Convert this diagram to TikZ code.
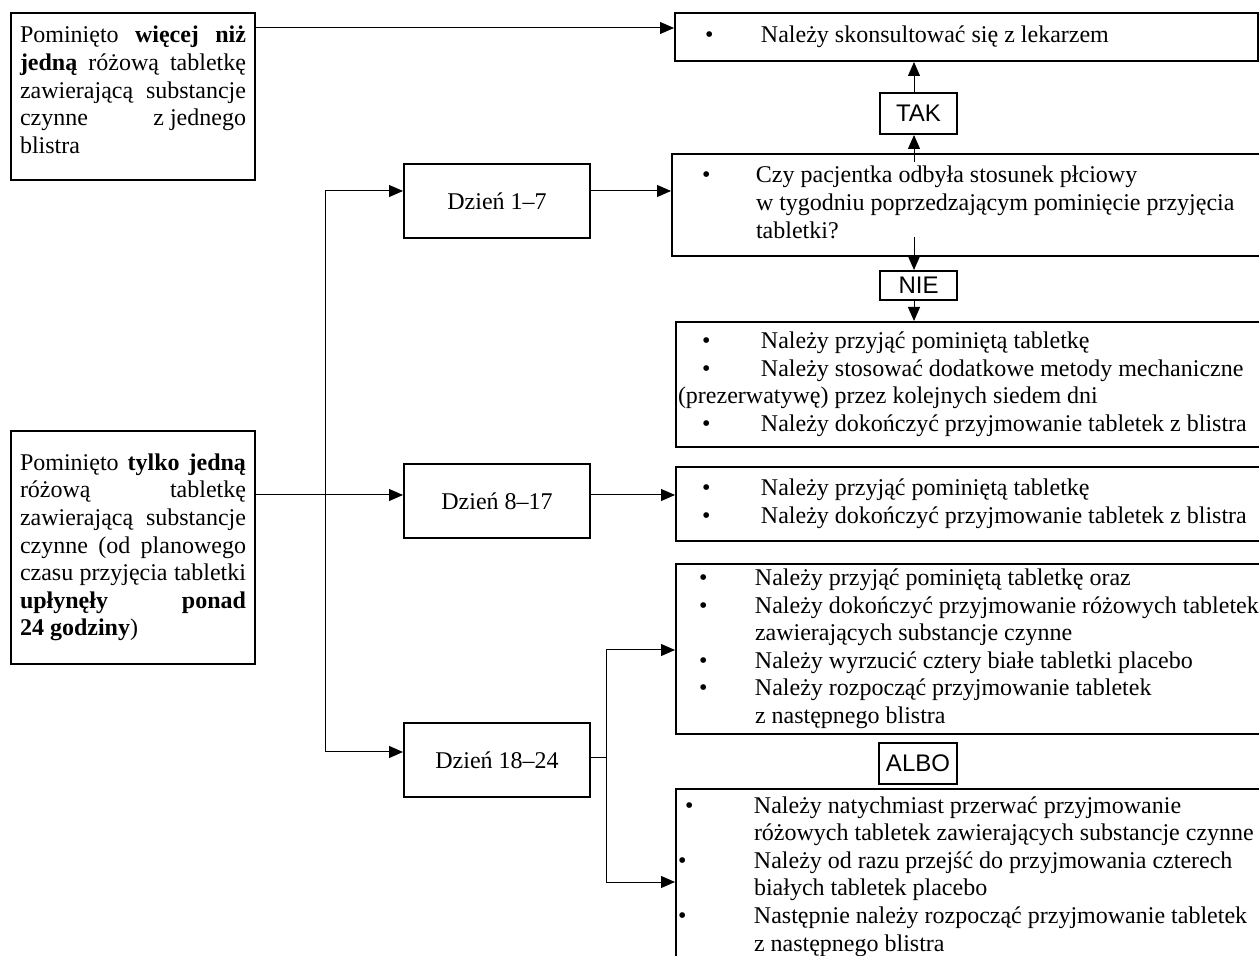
\documentclass[tikz,border=0pt]{standalone}
\usepackage{fontspec}
\setmainfont{Liberation Serif}
\newfontfamily\arialf{Liberation Sans}
\usetikzlibrary{arrows.meta}
% one bulleted line, a continued line, a justified line
\newcommand\wordsp{\spaceskip=0pt\xspaceskip=0pt\relax}
\newcommand\bitem[3]{\mbox{\wordsp\strut\hspace*{#1}\makebox[#2][l]{\textbullet}#3}}
\newcommand\bcont[2]{\mbox{\wordsp\strut\hspace*{#1}#2}}
\newcommand\jline[1]{\makebox[\linewidth][s]{\wordsp\strut #1}}
\begin{document}
\begin{tikzpicture}[x=0.5pt,y=-0.5pt,
		every node/.style={font=\fontsize{12}{13.8}\selectfont},
		sidebox/.style={draw,line width=1pt,anchor=north west,text width=113pt,inner xsep=4.5pt,inner ysep=0pt,align=left},
		listbox/.style={draw,line width=1pt,anchor=north west,inner xsep=1pt,inner ysep=0pt,align=left},
		daybox/.style={draw,line width=1pt,anchor=north west,minimum width=93pt,minimum height=37pt},
		tagbox/.style={draw,line width=1pt,anchor=north west,minimum width=38.5pt,inner sep=0pt,font=\arialf\fontsize{12}{13.8}\selectfont},
		conn/.style={line width=0.5pt,-{Triangle[length=7pt,width=6pt]}},
		link/.style={line width=0.5pt}]
		\useasboundingbox (0,0) rectangle (1259,956);
		% left column
		\node[sidebox,minimum height=83.5pt] (A) at (10,12) {\jline{Pominięto \textbf{więcej niż}}\\
			\jline{\textbf{jedną} różową tabletkę}\\
			\jline{zawierającą substancje}\\
			\jline{czynne\hfill z jednego}\\
			\bcont{0pt}{blistra\rule[-8pt]{0pt}{8pt}}};
		\node[sidebox,minimum height=116.5pt] (B) at (10,430) {\jline{Pominięto \textbf{tylko jedną}}\\
			\jline{różową tabletkę}\\
			\jline{zawierającą substancje}\\
			\jline{czynne (od planowego}\\
			\jline{czasu przyjęcia tabletki}\\
			\jline{\textbf{upłynęły ponad}}\\
			\bcont{0pt}{\textbf{24 godziny})}};
		% days
		\node[daybox] (d1) at (403,163) {Dzień 1–7};
		\node[daybox] (d2) at (403,463) {Dzień 8–17};
		\node[daybox] (d3) at (403,722) {Dzień 18–24};
		% right column
		\node[listbox,text width=289.5pt,minimum height=24pt] (top) at (674,12) {\bitem{14pt}{28pt}{Należy skonsultować się z lekarzem}};
		\node[listbox,text width=293.5pt,minimum height=51pt] (czy) at (671,153) {\bitem{14pt}{27pt}{Czy pacjentka odbyła stosunek płciowy}\\
			\bcont{41pt}{w tygodniu poprzedzającym pominięcie przyjęcia}\\
			\bcont{41pt}{tabletki?}};
		\node[listbox,text width=291.5pt,minimum height=62.5pt] (b3) at (675,321) {\bitem{12pt}{29.5pt}{Należy przyjąć pominiętą tabletkę}\\
			\bitem{12pt}{29.5pt}{Należy stosować dodatkowe metody mechaniczne}\\
			\bcont{0pt}{(prezerwatywę) przez kolejnych siedem dni}\\
			\bitem{12pt}{29.5pt}{Należy dokończyć przyjmowanie tabletek z blistra}};
		\node[listbox,text width=291.5pt,minimum height=37pt] (b4) at (675,466) {\bitem{12pt}{29.5pt}{Należy przyjąć pominiętą tabletkę}\\
			\bitem{12pt}{29.5pt}{Należy dokończyć przyjmowanie tabletek z blistra}};
		\node[listbox,text width=291.5pt,minimum height=85pt] (b5) at (675,563) {\bitem{10.5pt}{28pt}{Należy przyjąć pominiętą tabletkę oraz}\\
			\bitem{10.5pt}{28pt}{Należy dokończyć przyjmowanie różowych tabletek}\\
			\bcont{38.5pt}{zawierających substancje czynne}\\
			\bitem{10.5pt}{28pt}{Należy wyrzucić cztery białe tabletki placebo}\\
			\bitem{10.5pt}{28pt}{Należy rozpocząć przyjmowanie tabletek}\\
			\bcont{38.5pt}{z następnego blistra}};
		\node[listbox,text width=291.5pt,minimum height=87.5pt] (b6) at (675,788) {\bitem{3.5pt}{34.5pt}{Należy natychmiast przerwać przyjmowanie}\\
			\bcont{38pt}{różowych tabletek zawierających substancje czynne}\\
			\bitem{0pt}{38pt}{Należy od razu przejść do przyjmowania czterech}\\
			\bcont{38pt}{białych tabletek placebo}\\
			\bitem{0pt}{38pt}{Następnie należy rozpocząć przyjmowanie tabletek}\\
			\bcont{38pt}{z następnego blistra}};
		% answers
		\node[tagbox,minimum height=20.5pt] (tak) at (879,92) {TAK};
		\node[tagbox,minimum height=14.5pt] (nie) at (879,270) {NIE};
		\node[tagbox,minimum width=39pt,minimum height=20.5pt] (albo) at (878,742) {ALBO};
		% connectors
		\coordinate (a1) at ([yshift=-8pt]A.north east);
		\coordinate (b1) at ([yshift=-32.5pt]B.north east);
		\coordinate (t1) at (325,191);
		\coordinate (t2) at (325,752);
		\coordinate (q1) at (914,162);
		\coordinate (q2) at (914,237);
		\coordinate (s1) at (606,758);
		\coordinate (s2) at (606,650);
		\coordinate (s3) at (606,882);
		\draw[conn] (a1) -- (a1 -| top.west);
		\draw[conn] (b1) -- (b1 -| d2.west);
		\draw[link] (t1) -- (t2);
		\draw[conn] (t1) -- (t1 -| d1.west);
		\draw[conn] (t2) -- (t2 -| d3.west);
		\draw[conn] (d1.east |- t1) -- (t1 -| czy.west);
		\draw[conn] (d2.east |- b1) -- (b1 -| b4.west);
		\draw[conn] (q1) -- (q1 |- tak.south);
		\draw[conn] (q1 |- tak.north) -- (q1 |- top.south);
		\draw[conn] (q2) -- (q2 |- nie.north);
		\draw[conn] (q2 |- nie.south) -- (q2 |- b3.north);
		\draw[link] (d3.east |- s1) -- (s1);
		\draw[link] (s2) -- (s3);
		\draw[conn] (s2) -- (s2 -| b5.west);
		\draw[conn] (s3) -- (s3 -| b6.west);
\end{tikzpicture}
\end{document}
